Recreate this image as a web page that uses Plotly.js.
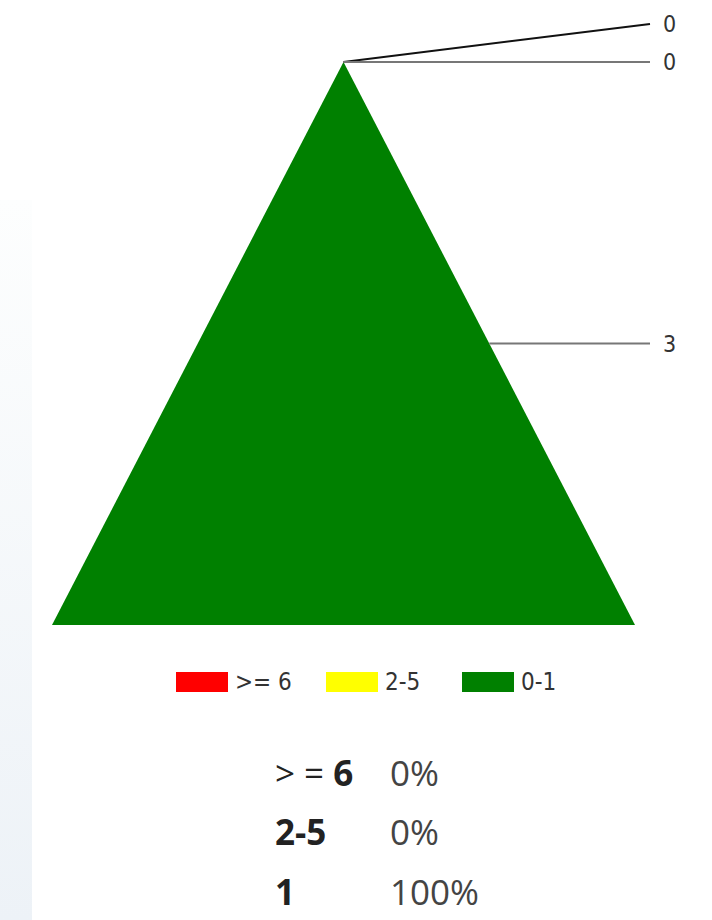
<!DOCTYPE html>
<html>
<head>
<meta charset="utf-8">
<script src="https://cdn.plot.ly/plotly-3.0.1.min.js"></script>
<style>
  html, body { margin: 0; padding: 0; background: #fff; }
  #chart { width: 712px; height: 920px; }
</style>
</head>
<body>
<div id="chart"></div>
<script>
// pyramid segments, top to bottom
var categories = ['>= 6', '2-5', '0-1'];
var counts = [0, 0, 3];
var colors = ['#ff0000', '#ffff00', '#008000'];
var connectorColors = ['#111111', '#777777', '#777777'];

// summary table under the legend
var tableLabels = ['> = <b>6</b>', '<b>2-5</b>', '<b>1</b>'];
var tablePercents = ['0%', '0%', '100%'];

// layout constants (pixels)
var cx = 343.5, topY = 62, baseY = 625, halfBase = 291.5;
var labelLineEnd = 650, labelX = 661;
var legendX = [176, 326, 462], legendY = 682;
var tableY = [772, 831, 891], tableCol1 = 273, tableCol2 = 388;
var narrow = 'Liberation Sans Narrow, Arial Narrow, DejaVu Sans Condensed, Liberation Sans';

var total = counts.reduce(function (a, b) { return a + b; }, 0);
var H = baseY - topY;
function halfW(y) { return halfBase * (y - topY) / H; }

var traces = [];
var shapes = [];
var annotations = [];

// faint panel on the left edge
traces.push({
    x: [0, 32, 32, 0, 0], y: [200, 200, 920, 920, 200],
    type: 'scatter', mode: 'lines', fill: 'toself',
    line: { width: 0 },
    fillgradient: { type: 'vertical', colorscale: [[0, '#edf2f7'], [1, '#fdfefe']] },
    hoverinfo: 'skip'
});

var cum = 0;
var centers = [];
var edges = [];
categories.forEach(function (c, i) {
    var y0 = topY + cum / total * H;
    cum += counts[i];
    var y1 = topY + cum / total * H;
    if (counts[i] > 0) {
        traces.push({
            x: [cx - halfW(y0), cx + halfW(y0), cx + halfW(y1), cx - halfW(y1), cx - halfW(y0)],
            y: [y0, y0, y1, y1, y0],
            type: 'scatter', mode: 'lines', fill: 'toself',
            fillcolor: colors[i], line: { width: 0 },
            name: c, hoverinfo: 'name'
        });
    }
    var ym = (y0 + y1) / 2;
    centers.push(ym);
    edges.push([cx + halfW(ym), ym]);
});

// push overlapping labels upward
var labelY = centers.slice();
for (var i = labelY.length - 2; i >= 0; i--) {
    if (labelY[i] > labelY[i + 1] - 38) labelY[i] = labelY[i + 1] - 38;
}

categories.forEach(function (c, i) {
    shapes.push({
        type: 'line', xref: 'x', yref: 'y',
        x0: edges[i][0], y0: edges[i][1], x1: labelLineEnd, y1: labelY[i],
        line: { color: connectorColors[i], width: 2 }
    });
    annotations.push({
        x: labelX, y: labelY[i], xref: 'x', yref: 'y', text: String(counts[i]),
        showarrow: false, xanchor: 'left', yanchor: 'middle',
        font: { family: narrow, size: 23, color: '#333' }
    });

    // legend
    shapes.push({
        type: 'rect', xref: 'x', yref: 'y',
        x0: legendX[i], x1: legendX[i] + 52, y0: legendY - 10, y1: legendY + 10,
        fillcolor: colors[i], line: { width: 0 }
    });
    annotations.push({
        x: legendX[i] + 57, y: legendY, xref: 'x', yref: 'y', text: c,
        showarrow: false, xanchor: 'left', yanchor: 'middle',
        font: { family: narrow, size: 24, color: '#333' }
    });

    // table
    annotations.push({
        x: tableCol1, y: tableY[i], xref: 'x', yref: 'y', text: tableLabels[i],
        showarrow: false, xanchor: 'left', yanchor: 'middle',
        font: { family: 'Open Sans, Noto Sans, sans-serif', size: 35, color: '#222' }
    });
    annotations.push({
        x: tableCol2, y: tableY[i], xref: 'x', yref: 'y', text: tablePercents[i],
        showarrow: false, xanchor: 'left', yanchor: 'middle',
        font: { family: 'Open Sans, Noto Sans, sans-serif', size: 35, color: '#444' }
    });
});

var layout = {
    width: 712, height: 920,
    margin: { l: 0, r: 0, t: 0, b: 0 },
    paper_bgcolor: '#ffffff', plot_bgcolor: '#ffffff',
    showlegend: false,
    xaxis: { range: [0, 712], visible: false, fixedrange: true },
    yaxis: { range: [920, 0], visible: false, fixedrange: true },
    shapes: shapes,
    annotations: annotations
};

Plotly.newPlot('chart', traces, layout, { displayModeBar: false, staticPlot: true });
</script>
</body>
</html>
